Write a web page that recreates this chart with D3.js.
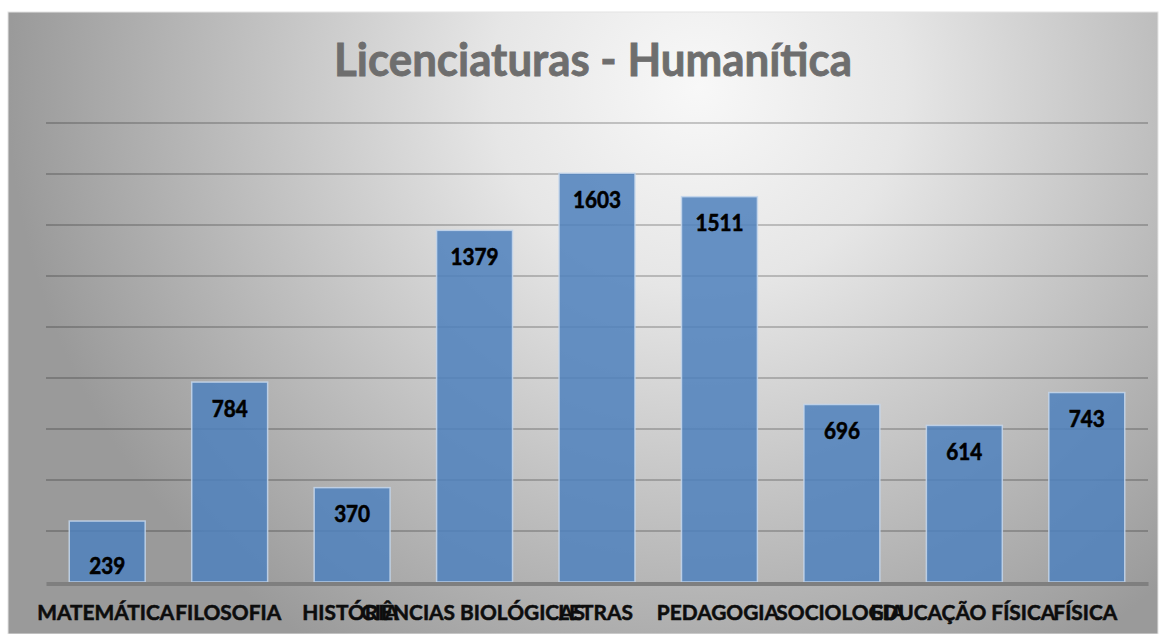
<!DOCTYPE html>
<html><head><meta charset="utf-8">
<script src="https://cdn.jsdelivr.net/npm/d3@7/dist/d3.min.js"></script>
<style>html,body{margin:0;padding:0;background:#fff;}svg{display:block;}</style>
</head><body>
<script>
const categories = ["MATEMÁTICA","FILOSOFIA","HISTÓRIA","CIÊNCIAS BIOLÓGICAS","LETRAS","PEDAGOGIA","SOCIOLOGIA","EDUCAÇÃO FÍSICA","FÍSICA"];
const values = [239,784,370,1379,1603,1511,696,614,743];
const yTicks = [0,200,400,600,800,1000,1200,1400,1600,1800];
const titleText = "Licenciaturas - Humanítica";

const W = 1163, H = 634;
const svg = d3.select("body").append("svg").attr("width", W).attr("height", H);
const defs = svg.append("defs");
const grad = defs.append("radialGradient").attr("id","bg")
  .attr("cx",0.6).attr("cy",0.12).attr("r",0.6).attr("fx",0.6).attr("fy",0.12)
  .attr("gradientTransform","translate(0.6,0.12) scale(1,1.8) translate(-0.6,-0.12)");
grad.append("stop").attr("offset",0).attr("stop-color","#f8f8f8");
grad.append("stop").attr("offset",0.3).attr("stop-color","#e6e6e6");
grad.append("stop").attr("offset",1).attr("stop-color","#9a9a9a");

svg.append("rect").attr("x",8).attr("y",12).attr("width",1150).attr("height",H-12)
  .attr("fill","url(#bg)").attr("stroke","#e4e4e4").attr("stroke-width",1);

const x0 = 46, x1 = 1148, yBase = 582, yTop = 123;
const x = d3.scaleBand().domain(categories).range([x0,x1]).paddingInner(0.38).paddingOuter(0.19);
const y = d3.scaleLinear().domain([0,1800]).range([yBase,yTop]);

// gridlines
svg.append("g").selectAll("line").data(yTicks.filter(t=>t>0)).join("line")
  .attr("x1",x0).attr("x2",x1).attr("y1",d=>y(d)).attr("y2",d=>y(d))
  .attr("stroke","rgba(0,0,0,0.27)").attr("stroke-width",1.3);

// bars
svg.append("g").selectAll("rect").data(values).join("rect")
  .attr("x",(d,i)=>x(categories[i])).attr("width",x.bandwidth())
  .attr("y",d=>y(d)).attr("height",d=>yBase-y(d))
  .attr("fill","#4f81bd").attr("fill-opacity",0.86)
  .attr("stroke","#c6d7ec").attr("stroke-opacity",0.85).attr("stroke-width",1.5);

// axis line
const xAxis = d3.axisBottom(x).tickSize(0).tickPadding(0).tickFormat("");
const ax = svg.append("g").attr("transform",`translate(0,${yBase+1.5})`).call(xAxis);
ax.select(".domain").attr("stroke","#7f7f7f").attr("stroke-width",4);

const font = "Lato, 'Open Sans', sans-serif";

// value labels
const vl = svg.append("g").selectAll("text").data(values).join("text")
  .attr("text-anchor","middle")
  .attr("font-family",font).attr("font-weight","bold").attr("font-size",22)
  .attr("fill","#000").attr("stroke","#000").attr("stroke-width",0.6)
  .text(d=>d);
vl.each(function(d,i){
  const cx = x(categories[i]) + x.bandwidth()/2;
  const h = yBase - y(d);
  const by = h < 70 ? yBase - 8.5 : y(d) + 34.5;
  const w = this.getComputedTextLength();
  const target = String(d).length * 12;
  const s = target / w;
  d3.select(this).attr("x",0).attr("y",0)
    .attr("transform",`translate(${cx},${by}) scale(${s},1)`);
});

// category labels
const refW = (function(){
  const t = svg.append("text").attr("font-family",font).attr("font-weight","bold").attr("font-size",21).text("MATEMÁTICA");
  const w = t.node().getComputedTextLength(); t.remove(); return w;
})();
const catScale = 137 / refW;
svg.append("g").selectAll("text").data(categories).join("text")
  .attr("text-anchor","middle")
  .attr("font-family",font).attr("font-weight","bold").attr("font-size",21)
  .attr("fill","#0d0d0d").attr("stroke","#0d0d0d").attr("stroke-width",0.55)
  .attr("transform",d=>`translate(${x(d)+x.bandwidth()/2 - 1.5},620) scale(${catScale},1)`)
  .text(d=>d);

// title
const title = svg.append("text").attr("text-anchor","middle")
  .attr("font-family",font).attr("font-weight","bold").attr("font-size",45)
  .attr("fill","#6e6e6e").attr("stroke","#6e6e6e").attr("stroke-width",0.8).text(titleText);
const tw = title.node().getComputedTextLength();
title.attr("transform",`translate(593,75.5) scale(${518/tw},1)`);
</script>
</body></html>
